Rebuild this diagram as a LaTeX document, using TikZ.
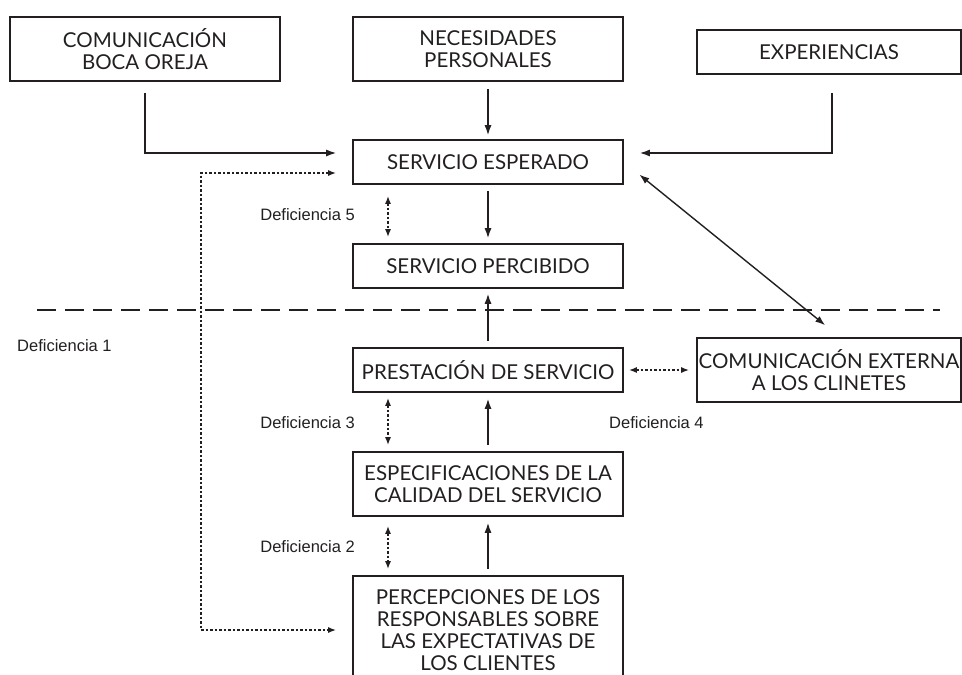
\documentclass[tikz,border=0pt]{standalone}
\usepackage{fontspec}
\setmainfont{Lato}
\newfontfamily\deffont{Liberation Sans}
\usetikzlibrary{arrows.meta}

\definecolor{tinta}{HTML}{231F20}

\tikzstyle{every node}=[font=\fontsize{20.5pt}{22pt}\selectfont, text=tinta]
\tikzstyle{caja}=[draw=tinta, line width=1.6pt, align=center, inner sep=0pt, minimum width=270pt]
\tikzstyle{flecha}=[draw=tinta, line width=1.4pt, -{Latex[length=10pt,width=7pt]}]
\tikzstyle{punteada}=[draw=tinta, line width=1.5pt, dash pattern=on 2.5pt off 2pt, {Latex[length=8pt,width=6pt]}-{Latex[length=8pt,width=6pt]}]
\tikzstyle{etiqueta}=[font=\deffont\fontsize{16.5pt}{18pt}\selectfont, inner sep=0pt]

\begin{document}
\begin{tikzpicture}[x=1pt, y=-1pt]
		% Marco
		\useasboundingbox (0,0) rectangle (962,675);

		% Cajas superiores
		\node[caja, minimum height=64pt] (boca) at (145,49) {COMUNICACIÓN\\BOCA OREJA};
		\node[caja, minimum height=64pt] (necesidades) at (488,49) {NECESIDADES\\PERSONALES};
		\node[caja, minimum width=264pt, minimum height=44pt] (experiencias) at (829,52) {EXPERIENCIAS};

		% Columna central
		\node[caja, minimum height=44pt] (esperado) at (488,162) {SERVICIO ESPERADO};
		\node[caja, minimum height=44pt] (percibido) at (488,266) {SERVICIO PERCIBIDO};
		\node[caja, minimum height=44pt] (prestacion) at (488,370) {PRESTACIÓN DE SERVICIO};
		\node[caja, minimum width=264pt, minimum height=64pt] (externa) at (829,370) {COMUNICACIÓN EXTERNA\\A LOS CLINETES};
		\node[caja, minimum height=64pt] (especificaciones) at (488,484) {ESPECIFICACIONES DE LA\\CALIDAD DEL SERVICIO};
		\node[caja, minimum height=108pt] (percepciones) at (488,630) {PERCEPCIONES DE LOS\\RESPONSABLES SOBRE\\LAS EXPECTATIVAS DE\\LOS CLIENTES};

		% Línea divisoria
		\coordinate (izq) at (37,310);
		\coordinate (der) at (940,310);
		\draw[tinta, line width=1.4pt, dash pattern=on 19pt off 9pt] (izq) -- (der);

		% Deficiencias
		\node[etiqueta, anchor=east] (def5) at (355,215) {Deficiencia 5};
		\node[etiqueta, anchor=west] (def1) at (17,346) {Deficiencia 1};
		\node[etiqueta, anchor=east] (def3) at (355,423) {Deficiencia 3};
		\node[etiqueta, anchor=east] (def2) at (355,547) {Deficiencia 2};
		\node[etiqueta, anchor=west] (def4) at (609,423) {Deficiencia 4};

		% Flechas hacia el servicio esperado
		\draw[flecha, shorten <=11pt, shorten >=16pt] (boca.south) |- ([yshift=9pt]esperado.west);
		\draw[flecha, shorten <=7pt, shorten >=4pt] (necesidades) -- (esperado);
		\draw[flecha, shorten <=18pt, shorten >=16pt] ([xshift=3pt]experiencias.south) |- ([yshift=9pt]esperado.east);
		\draw[flecha, {Latex[length=10pt,width=7pt]}-{Latex[length=10pt,width=7pt]}, shorten <=20pt, shorten >=19pt] (esperado.east) -- ([xshift=11pt]externa.north);

		% Flechas de la columna central
		\draw[flecha, shorten <=6pt, shorten >=5pt] (esperado) -- (percibido);
		\draw[flecha, shorten <=6pt, shorten >=5pt] (prestacion) -- (percibido);
		\draw[flecha, shorten <=6pt, shorten >=6pt] (especificaciones) -- (prestacion);
		\draw[flecha, shorten <=6pt, shorten >=6pt] (percepciones) -- (especificaciones);

		% Flechas punteadas
		\coordinate (codo) at (201,400);
		\draw[punteada, shorten <=16pt, shorten >=16pt] ([yshift=-11pt]esperado.west) -| (codo) |- (percepciones.west);
		\draw[punteada, shorten <=11pt, shorten >=6pt] ([xshift=-100pt]esperado.south) -- ([xshift=-100pt]percibido.north);
		\draw[punteada, shorten <=5pt, shorten >=6pt] ([xshift=-100pt]prestacion.south) -- ([xshift=-100pt]especificaciones.north);
		\draw[punteada, shorten <=9pt, shorten >=6pt] ([xshift=-100pt]especificaciones.south) -- ([xshift=-100pt]percepciones.north);
		\draw[punteada, shorten <=5pt, shorten >=7pt] (prestacion.east) -- (externa.west);
\end{tikzpicture}
\end{document}
